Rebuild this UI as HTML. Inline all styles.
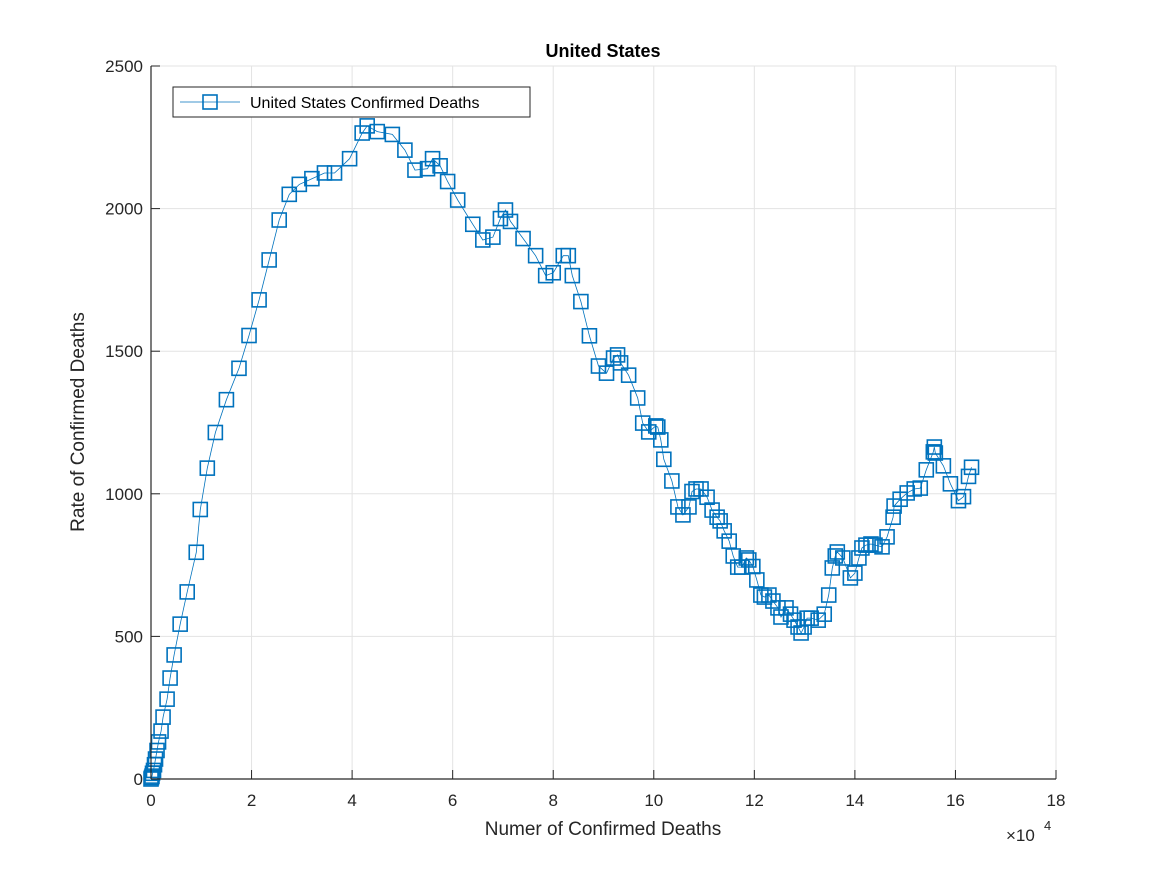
<!DOCTYPE html>
<html><head><meta charset="utf-8"><style>
body{margin:0;background:#fff;}
svg text{font-family:"Liberation Sans",Arial,sans-serif;}
</style></head><body>
<svg id="chart" width="1167" height="875" xmlns="http://www.w3.org/2000/svg">
<rect width="1167" height="875" fill="#fff"/>
<g id="grid"></g>
<g id="series"></g>
<g id="axes"></g>
</svg>
<script>
const xVals=[0,0.01,0.02,0.03,0.05,0.07,0.09,0.12,0.15,0.2,0.24,0.32,0.38,0.46,0.58,0.72,0.9,0.98,1.12,1.28,1.5,1.75,1.95,2.15,2.35,2.55,2.75,2.95,3.2,3.45,3.65,3.95,4.2,4.3,4.5,4.8,5.05,5.25,5.5,5.6,5.75,5.9,6.1,6.4,6.6,6.8,6.95,7.05,7.15,7.4,7.65,7.85,8.0,8.2,8.3,8.38,
8.55,8.72,8.9,9.06,9.2,9.28,9.34,9.5,9.68,9.78,9.9,10.04,10.08,10.14,10.2,10.36,10.48,10.58,10.7,10.76,10.84,10.94,11.06,11.16,11.26,11.32,11.4,11.5,11.58,11.67,11.75,11.84,11.89,11.97,12.05,12.13,12.2,12.29,12.37,12.47,12.53,12.63,12.72,12.79,12.87,12.93,12.99,13.05,13.13,13.27,13.39,13.48,13.55,13.61,13.65,13.76,13.91,14.0,14.08,14.14,14.22,14.32,14.4,14.54,14.64,14.76,14.78,14.9,15.04,15.18,15.3,15.42,15.56,15.58,15.6,15.76,15.9,16.06,16.16,16.26,16.32];
const yVals=[0,5,10,20,30,50,70,100,130,168,217,280,354,435,543,656,795,945,1090,1215,1330,1440,1555,1680,1820,1960,2050,2085,2105,2125,2125,2175,2265,2290,2270,2260,2205,2135,2140,2175,2150,2095,2030,1945,1890,1900,1965,1995,1955,1895,1835,1765,1775,1835,1835,1765,
1674,1554,1448,1423,1476,1487,1459,1416,1336,1248,1217,1238,1234,1189,1121,1045,954,926,954,1008,1017,1017,988,943,918,905,870,834,782,743,743,775,768,745,698,645,638,645,624,600,568,600,578,557,533,512,533,564,564,557,578,645,740,782,796,775,705,722,775,810,820,824,820,814,849,918,957,981,1003,1017,1020,1084,1147,1164,1143,1098,1035,976,990,1061,1093];
const xTicks=[0,2,4,6,8,10,12,14,16,18];
const yTicks=[0,500,1000,1500,2000,2500];
const L=151,R=1056,T=66,B=779;
const X=v=>L+(v/18)*(R-L);
const Y=v=>B-(v/2500)*(B-T);
const NS="http://www.w3.org/2000/svg";
function mk(tag,attrs,parent,txt){const e=document.createElementNS(NS,tag);for(const k in attrs)e.setAttribute(k,attrs[k]);if(txt!==undefined)e.textContent=txt;parent.appendChild(e);return e;}
const grid=document.getElementById('grid'),axes=document.getElementById('axes'),series=document.getElementById('series');
xTicks.forEach(t=>{const g=mk('line',{x1:X(t),x2:X(t),y1:T,y2:B,stroke:'#e3e3e3','stroke-width':1},grid);


const tk=mk('line',{x1:X(t),x2:X(t),y1:B,y2:B-9,stroke:'#262626'},axes);


const lb=mk('text',{x:X(t),y:806,'text-anchor':'middle','font-size':17,fill:'#262626'},axes,String(t));

});
yTicks.forEach(t=>{const g=mk('line',{x1:L,x2:R,y1:Y(t),y2:Y(t),stroke:'#e3e3e3','stroke-width':1},grid);


const tk=mk('line',{x1:L,x2:L+9,y1:Y(t),y2:Y(t),stroke:'#262626'},axes);


const lb=mk('text',{x:143,y:Y(t)+6,'text-anchor':'end','font-size':17,fill:'#262626'},axes,String(t));

});
const xa=mk('line',{x1:L,x2:R,y1:B,y2:B,stroke:'#262626','stroke-width':1.2},axes);


const ya=mk('line',{x1:L,x2:L,y1:T,y2:B,stroke:'#262626','stroke-width':1.2},axes);


const pts=xVals.map((v,i)=>X(v).toFixed(1)+','+Y(yVals[i]).toFixed(1)).join(' ');
const pl=mk('polyline',{points:pts,fill:'none',stroke:'#0072BD','stroke-width':0.8},series);


xVals.forEach((v,i)=>{const m=mk('rect',{x:X(v)-7,y:Y(yVals[i])-7,width:14,height:14,fill:'none',stroke:'#0072BD','stroke-width':1.6},series);

});
const ti=mk('text',{x:603,y:57,'text-anchor':'middle','font-size':18,'font-weight':'bold',fill:'#000'},axes,'United States');


const xl=mk('text',{x:603,y:835,'text-anchor':'middle','font-size':19,fill:'#262626'},axes,'Numer of Confirmed Deaths');


const yl=mk('text',{x:84,y:422,'text-anchor':'middle','font-size':19,fill:'#262626',transform:'rotate(-90 84 422)'},axes,'Rate of Confirmed Deaths');


const ex=mk('text',{x:1006,y:841,'font-size':17,fill:'#262626'},axes,'×10');


const ex2=mk('text',{x:1044,y:830,'font-size':13,fill:'#262626'},axes,'4');


const lg=mk('g',{},axes);


mk('rect',{x:173,y:87,width:357,height:30,fill:'#fff',stroke:'#262626','stroke-width':1},lg);
mk('line',{x1:180,x2:240,y1:102,y2:102,stroke:'#0072BD','stroke-width':0.8},lg);
mk('rect',{x:203,y:95,width:14,height:14,fill:'none',stroke:'#0072BD','stroke-width':1.6},lg);
const lt=mk('text',{x:250,y:108,'font-size':16,fill:'#000'},lg,'United States Confirmed Deaths');


</script>
</body></html>
